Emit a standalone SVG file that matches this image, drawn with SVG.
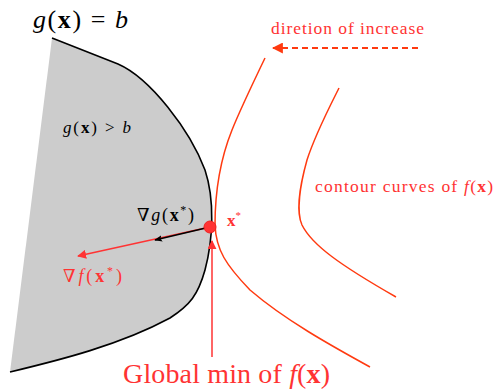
<svg xmlns="http://www.w3.org/2000/svg" width="497" height="389" viewBox="0 0 497 389" font-family="'Liberation Serif', 'DejaVu Serif', serif">
<style>
.it{font-style:italic}
.bf{font-weight:bold}
.red{fill:#f33}
.contour{fill:none;stroke:#ff3a10;stroke-width:1.5}
</style>
<defs>
<marker id="ahR2" viewBox="0 0 10 10" refX="9" refY="5" markerWidth="9" markerHeight="9" orient="auto" markerUnits="userSpaceOnUse">
<path d="M0,0 L10,5 L0,10 z" fill="#f33"/>
</marker>
<marker id="ahK" viewBox="0 0 10 10" refX="9" refY="5" markerWidth="8" markerHeight="8" orient="auto" markerUnits="userSpaceOnUse">
<path d="M0,1 L10,5 L0,9 L2,5 z" fill="#000"/>
</marker>
<marker id="ahO" viewBox="0 0 10 10" refX="9" refY="5" markerWidth="11" markerHeight="11" orient="auto" markerUnits="userSpaceOnUse">
<path d="M0,0 L10,5 L0,10 z" fill="#ff3a10"/>
</marker>
</defs>

<g id="region">
<path d="M52,38 L118,64 C150,78 190,130 205,170 C215,200 213,240 205,270 C198,295 190,305 170,318 C120,345 60,360 10,372 Z" fill="#ccc" stroke="none"/>
<path d="M52,38 L118,64 C150,78 190,130 205,170 C215,200 213,240 205,270 C198,295 190,305 170,318 C120,345 60,360 10,372" fill="none" stroke="#000" stroke-width="1.6"/>
<text x="63" y="133" font-size="17" textLength="68" lengthAdjust="spacing"><tspan class="it">g</tspan>(<tspan class="bf">x</tspan>) &gt; <tspan class="it">b</tspan></text>
<text x="33" y="28" font-size="26" textLength="95" lengthAdjust="spacing"><tspan class="it">g</tspan>(<tspan class="bf">x</tspan>) = <tspan class="it">b</tspan></text>
</g>

<g id="contours">
<path class="contour" d="M265,58 C252,85 240,110 232,130 C220,160 215,195 215,225 C216,250 226,265 250,290 C285,320 330,345 370,367"/>
<path class="contour" d="M339,88 C328,110 315,135 307,160 C300,185 296,212 302,225 C312,245 340,265 396,297"/>
<text x="315" y="192" font-size="17.5" class="red" textLength="178" lengthAdjust="spacing">contour curves of <tspan class="it">f</tspan>(<tspan class="bf">x</tspan>)</text>
</g>

<g id="direction">
<line x1="418" y1="48" x2="273" y2="48" stroke="#ff3a10" stroke-width="2" stroke-dasharray="6,4" marker-end="url(#ahO)"/>
<text x="271" y="34" font-size="17.5" class="red" textLength="153" lengthAdjust="spacing">diretion of increase</text>
</g>

<g id="connectors">
<line x1="210" y1="227" x2="78" y2="256" stroke="#f33" stroke-width="1.5" marker-end="url(#ahR2)"/>
<line x1="210" y1="227" x2="155" y2="240" stroke="#000" stroke-width="1.5" marker-end="url(#ahK)"/>
<line x1="212" y1="357" x2="212" y2="241" stroke="#f33" stroke-width="1.5" marker-end="url(#ahR2)"/>
</g>

<g id="xstar">
<circle cx="210" cy="227" r="6" fill="#f33" stroke="#e22" stroke-width="1"/>
<text x="227" y="226" font-size="17" class="red"><tspan class="bf">x</tspan><tspan font-size="11" dy="-7">*</tspan></text>
</g>

<g id="labels">
<text x="137" y="221" font-size="18" textLength="57" lengthAdjust="spacing">∇<tspan class="it">g</tspan>(<tspan class="bf">x</tspan><tspan font-size="12" dy="-7">*</tspan><tspan dy="7">)</tspan></text>
<text x="63" y="282" font-size="18" class="red" textLength="59" lengthAdjust="spacing">∇<tspan class="it">f</tspan>(<tspan class="bf">x</tspan><tspan font-size="12" dy="-7">*</tspan><tspan dy="7">)</tspan></text>
<text x="123" y="383" font-size="28" class="red" textLength="207" lengthAdjust="spacing">Global min of <tspan class="it">f</tspan>(<tspan class="bf">x</tspan>)</text>
</g>
</svg>
